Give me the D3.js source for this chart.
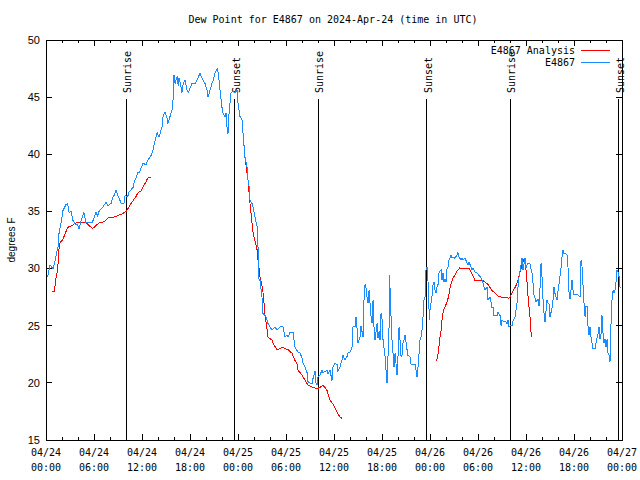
<!DOCTYPE html>
<html><head><meta charset="utf-8">
<script src="https://cdn.jsdelivr.net/npm/d3@7/dist/d3.min.js"></script>
<style>body{margin:0;background:#fff}svg{display:block}</style>
</head><body>
<svg id="c" width="640" height="480"></svg>
<script>
// ---- data (hours after 2024-04-24 00:00 UTC) ----
const titleText = "Dew Point for E4867 on 2024-Apr-24 (time in UTC)";
const yLabel = "degrees F";
const seriesNames = ["E4867 Analysis", "E4867"];
const yTicks = [15, 20, 25, 30, 35, 40, 45, 50];

const obsHours = [0.21,0.5,0.88,1.13,1.5,1.63,1.88,2.13,2.5,2.71,2.88,3.13,3.34,3.63,3.88,4.13,4.38,4.75,5.0,5.25,5.75,6.0,6.25,6.44,6.63,7.13,7.5,7.71,8.13,8.38,8.54,8.75,8.96,9.13,9.38,9.75,9.88,10.21,10.38,10.88,11.0,11.5,11.66,11.88,12.13,12.5,12.75,13.13,13.38,13.5,13.75,13.88,14.13,14.5,14.63,14.88,15.09,15.25,15.5,15.75,15.88,16.0,16.13,16.38,16.54,16.63,16.84,17.0,17.16,17.38,17.63,17.79,18.0,18.25,18.63,18.88,19.25,19.46,19.63,19.88,20.13,20.25,20.5,20.75,20.91,21.13,21.38,21.54,21.75,22.0,22.13,22.38,22.5,22.63,22.75,22.88,23.13,23.38,23.63,23.88,24.0,24.25,24.5,24.63,24.88,25.13,25.19,25.38,25.5,25.75,25.88,26.13,26.38,26.5,26.63,26.75,27.0,27.06,27.5,27.75,28.25,28.63,28.88,29.25,29.63,29.88,30.13,30.25,30.5,30.88,31.13,31.5,31.75,32.0,32.13,32.38,32.63,32.75,33.0,33.25,33.38,33.63,33.75,33.88,34.0,34.25,34.5,34.63,34.88,35.13,35.25,35.5,35.75,35.88,36.13,36.38,36.5,36.75,37.0,37.13,37.38,37.63,37.75,38.0,38.25,38.38,38.63,38.75,38.88,39.0,39.25,39.38,39.5,39.63,39.75,39.88,40.0,40.13,40.25,40.38,40.63,40.75,40.88,40.94,41.0,41.13,41.38,41.5,41.63,41.75,41.88,42.0,42.13,42.38,42.5,42.63,42.75,42.88,42.94,43.0,43.13,43.25,43.38,43.5,43.63,43.75,43.88,44.0,44.13,44.25,44.38,44.5,44.63,44.75,44.88,45.13,45.25,45.5,45.63,45.88,46.13,46.25,46.38,46.5,46.63,46.75,46.88,47.0,47.13,47.25,47.38,47.44,47.5,47.63,47.75,47.88,47.94,48.0,48.13,48.25,48.38,48.5,48.63,48.75,48.88,49.0,49.06,49.13,49.38,49.5,49.63,49.75,49.88,50.0,50.13,50.25,50.38,50.5,50.63,50.75,50.88,51.13,51.38,51.5,51.63,51.88,52.0,52.13,52.38,52.63,52.75,52.88,53.13,53.25,53.38,53.63,53.88,54.0,54.25,54.5,54.63,54.88,55.13,55.25,55.5,55.75,55.88,56.0,56.38,56.5,56.75,56.88,57.0,57.13,57.38,57.63,57.75,57.88,58.0,58.25,58.38,58.63,58.88,59.0,59.13,59.38,59.5,59.63,59.75,59.88,60.0,60.13,60.25,60.5,60.75,60.88,61.0,61.25,61.38,61.5,61.63,61.75,61.88,62.0,62.13,62.25,62.38,62.5,62.63,62.75,62.88,63.0,63.25,63.38,63.5,63.63,63.75,63.88,64.0,64.25,64.38,64.5,64.63,64.75,65.0,65.13,65.25,65.38,65.5,65.75,65.88,66.0,66.25,66.5,66.75,66.88,67.0,67.13,67.25,67.38,67.5,67.63,67.75,67.88,68.0,68.13,68.25,68.38,68.63,68.75,68.88,69.0,69.13,69.25,69.38,69.5,69.63,69.75,69.88,70.0,70.13,70.25,70.38,70.5,70.56,70.71,70.88,71.0,71.13,71.25,71.38,71.5,71.63,71.75,71.88];
const obsValues = [29.3,30.3,30.0,30.7,31.9,33.1,34.0,35.1,35.6,35.7,34.9,35.0,34.25,33.9,33.9,33.5,34.2,34.9,34.0,34.0,34.0,34.4,34.9,34.6,35.0,35.4,35.8,35.5,35.7,36.3,36.4,36.9,36.4,36.2,35.7,35.7,36.4,36.3,36.7,37.1,37.5,38.4,38.4,38.8,39.2,39.1,39.5,39.9,40.4,40.8,41.5,41.9,41.5,42.4,43.3,43.7,43.3,42.7,43.3,43.9,44.8,46.9,46.2,46.8,46.0,46.7,46.0,45.4,46.2,46.5,45.6,45.4,45.8,46.2,46.2,46.5,47.1,46.7,46.5,46.2,45.6,45.0,45.6,46.2,46.5,47.1,47.5,47.1,45.6,44.1,43.6,43.3,43.6,42.4,41.8,43.6,45.4,45.5,45.4,45.6,44.5,43.3,43.0,41.8,39.7,38.9,38.0,37.2,36.0,35.7,35.4,34.5,33.7,31.9,29.0,29.0,27.5,26.1,25.8,25.2,24.6,24.9,24.6,24.9,24.9,24.0,24.2,24.0,24.4,24.4,23.1,22.7,22.6,22.2,21.7,21.4,20.9,20.1,20.0,19.9,20.4,21.0,20.0,19.8,20.5,20.7,21.1,20.9,21.0,21.1,20.8,21.1,20.2,21.4,21.7,21.6,21.0,21.4,22.0,22.4,22.0,22.3,22.6,22.7,23.1,24.9,24.9,25.8,24.8,23.5,24.0,25.0,24.5,24.0,27.25,28.6,28.3,27.5,27.0,28.1,25.8,25.2,27.25,26.0,24.9,23.75,25.2,23.9,24.5,23.75,26.1,25.6,23.75,22.3,21.1,20.0,22.3,24.9,29.4,28.3,25.8,23.75,22.6,21.4,22.6,21.7,20.7,22.3,24.9,23.75,22.3,22.4,23.5,23.75,24.2,22.9,22.4,22.3,21.6,21.6,21.6,21.1,20.5,21.4,22.6,23.75,24.0,24.6,25.8,27.25,27.5,28.7,29.9,30.1,28.9,26.4,25.5,26.4,27.0,27.6,28.6,28.8,28.1,27.9,28.4,28.6,28.8,29.7,29.9,29.0,29.6,28.8,29.1,28.8,30.0,30.1,30.75,30.9,31.2,30.9,31.0,30.9,31.2,31.4,31.0,30.75,30.9,30.75,30.9,30.5,30.3,30.6,30.1,29.9,30.0,29.7,29.6,29.5,29.3,29.0,28.7,28.1,28.4,27.25,27.5,26.6,26.6,25.9,25.9,26.2,25.9,25.0,25.5,25.4,25.4,25.2,25.5,24.9,25.0,25.0,25.4,25.8,27.0,28.4,29.3,30.3,30.9,29.9,30.4,30.9,30.1,30.3,30.5,30.4,29.6,28.7,27.7,27.1,27.2,27.3,26.7,28.3,30.5,29.3,27.3,26.1,25.3,26.3,27.25,27.0,26.9,25.8,26.5,27.3,28.4,27.8,27.5,27.25,28.0,29.3,30.1,31.0,31.6,31.3,31.3,31.2,30.1,27.9,27.3,29.0,28.1,27.7,27.7,27.7,27.5,30.75,30.2,28.5,27.0,25.8,26.7,26.7,25.0,24.2,24.9,24.0,23.5,23.0,23.0,23.5,23.9,24.3,24.9,23.8,24.3,25.9,24.3,23.5,23.8,23.1,23.8,22.6,22.4,21.8,23.6,27.0,28.1,27.9,28.1,28.8,29.9,29.7,29.3,28.4,28.3];

// analysis: null marks a gap between runs
const anaHours = [0.75,1.04,1.25,1.46,1.67,2.08,2.71,3.33,3.75,5.0,5.83,6.63,7.25,7.88,8.5,9.58,10.0,10.38,10.63,11.25,11.46,11.88,12.08,12.5,12.7,13.1,
  null,
  24.88,25.25,25.5,25.75,25.9,26.1,26.4,26.5,26.75,27.1,27.25,27.4,27.6,27.75,28.25,28.5,28.9,29.25,29.6,30.25,30.75,31.1,31.4,31.5,32.0,32.4,32.75,33.4,33.9,34.25,34.6,35.1,35.25,35.5,35.9,36.4,36.75,37.0,
  null,
  48.8,48.96,49.1,49.25,49.4,49.5,49.7,50.1,50.3,50.5,50.7,50.9,51.1,51.3,51.7,52.9,53.2,53.4,53.6,54.5,54.9,55.3,55.7,56.1,56.5,56.95,57.4,57.8,58.0,58.2,58.4,58.6,58.8,59.0,59.2,59.4,59.55,59.75,59.9,60.05,60.15,60.25,60.35,60.5,60.6,60.7,60.8];
const anaValues = [28.0,28.0,29.2,29.9,32.2,32.5,33.6,33.8,34.0,34.0,33.5,34.0,34.1,34.5,34.5,34.8,35.0,35.4,35.7,36.3,36.6,36.8,37.1,37.6,37.9,38.0,
  null,
  39.7,37.75,35.7,34.0,33.1,32.5,31.6,30.75,29.3,28.1,27.0,25.8,24.9,24.0,23.75,23.3,22.9,23.0,23.1,22.9,22.6,22.0,21.6,21.1,20.7,20.2,19.8,19.6,19.5,19.6,19.8,19.4,19.0,18.5,18.1,17.4,17.0,16.9,
  null,
  21.9,22.3,23.1,24.0,24.6,25.5,26.4,27.0,27.5,28.3,28.8,29.2,29.4,29.7,30.05,30.0,29.6,29.3,29.0,29.0,28.8,28.6,28.1,27.9,27.6,27.5,27.5,27.4,27.5,27.8,28.1,28.3,28.6,29.0,29.6,30.0,30.4,30.8,30.6,29.5,28.6,27.6,26.8,25.8,24.6,24.1,24.1];

const sunHours = [10.0, 23.62, 34.0, 47.62, 58.0, 71.6];
const sunLabels = ["Sunrise", "Sunset", "Sunrise", "Sunset", "Sunrise", "Sunset"];

// ---- chart ----
const H = 3600e3;
const t0 = Date.UTC(2024, 3, 24, 0, 0);
const toDate = h => new Date(t0 + h * H);
const M = {l: 46, r: 622, t: 40, b: 440};
const mono = "'DejaVu Sans Mono', monospace";
const sans = "'Liberation Sans', Arial, sans-serif";
const obsColor = "#1a8cff", anaColor = "#ff0000";

const svg = d3.select("#c");
const x = d3.scaleUtc().domain([toDate(0), toDate(72)]).range([M.l, M.r]);
const y = d3.scaleLinear().domain([15, 50]).range([M.b, M.t]);

// title
svg.append("text").attr("x", 333).attr("y", 23).attr("text-anchor", "middle")
  .attr("font-family", mono).attr("font-size", 10).text(titleText);

// y axis labels
svg.append("g").selectAll("text").data(yTicks).join("text")
  .attr("x", 40).attr("y", d => y(d)).attr("dy", "0.35em").attr("text-anchor", "end")
  .attr("font-family", sans).attr("font-size", 11).text(d => d);
svg.append("text").attr("transform", `translate(11,${(M.t + M.b) / 2}) rotate(-90)`)
  .attr("text-anchor", "middle").attr("dy", "0.35em")
  .attr("font-family", sans).attr("font-size", 10).text(yLabel);

// ticks
const g = svg.append("g").attr("shape-rendering", "crispEdges").attr("stroke", "#000");
yTicks.forEach(v => {
  g.append("line").attr("x1", M.l).attr("x2", M.l + 6).attr("y1", y(v)).attr("y2", y(v));
  g.append("line").attr("x1", M.r - 6).attr("x2", M.r).attr("y1", y(v)).attr("y2", y(v));
});
const minorT = x.ticks(d3.utcHour.every(2));
minorT.forEach(t => {
  const big = t.getUTCHours() % 6 === 0;
  const L = big ? 6 : 3;
  g.append("line").attr("x1", x(t)).attr("x2", x(t)).attr("y1", M.b).attr("y2", M.b - L);
  g.append("line").attr("x1", x(t)).attr("x2", x(t)).attr("y1", M.t).attr("y2", M.t + L);
});

// x labels
const majorT = x.ticks(d3.utcHour.every(6));
const fD = d3.utcFormat("%m/%d"), fT = d3.utcFormat("%H:%M");
const xl = svg.append("g").attr("font-family", mono).attr("font-size", 10).attr("text-anchor", "middle");
majorT.forEach(t => {
  xl.append("text").attr("x", x(t)).attr("y", 456).text(fD(t));
  xl.append("text").attr("x", x(t)).attr("y", 471).text(fT(t));
});

// sunrise / sunset
sunHours.forEach((h, i) => {
  const sx = x(toDate(h));
  g.append("line").attr("x1", sx).attr("x2", sx).attr("y1", 99).attr("y2", M.b);
  svg.append("text").attr("transform", `translate(${sx + 5},93) rotate(-90)`)
    .attr("font-family", mono).attr("font-size", 10).attr("text-anchor", "start")
    .text(sunLabels[i]);
});

// series
const obs = obsHours.map((h, i) => ({t: toDate(h), v: obsValues[i]}));
const ana = anaHours.map((h, i) => ({t: h === null ? null : toDate(h), v: anaValues[i]}));
const line = d3.line().defined(d => d.v !== null).x(d => x(d.t)).y(d => y(d.v));
const plot = svg.append("g").attr("shape-rendering", "crispEdges");
plot.append("path").attr("d", line(ana)).attr("fill", "none").attr("stroke", anaColor).attr("stroke-width", 1);
plot.append("path").attr("d", line(obs)).attr("fill", "none").attr("stroke", obsColor).attr("stroke-width", 1);

// legend
const legY = [50, 62];
const legColors = [anaColor, obsColor];
seriesNames.forEach((n, i) => {
  svg.append("text").attr("x", 575).attr("y", legY[i]).attr("dy", "0.35em").attr("text-anchor", "end")
    .attr("font-family", mono).attr("font-size", 10).text(n);
  svg.append("line").attr("x1", 581).attr("x2", 610).attr("y1", legY[i]).attr("y2", legY[i])
    .attr("stroke", legColors[i]).attr("stroke-width", 1).attr("shape-rendering", "crispEdges");
});

// border
svg.append("rect").attr("x", M.l).attr("y", M.t).attr("width", M.r - M.l).attr("height", M.b - M.t)
  .attr("fill", "none").attr("stroke", "#000").attr("shape-rendering", "crispEdges");
</script>
</body></html>
